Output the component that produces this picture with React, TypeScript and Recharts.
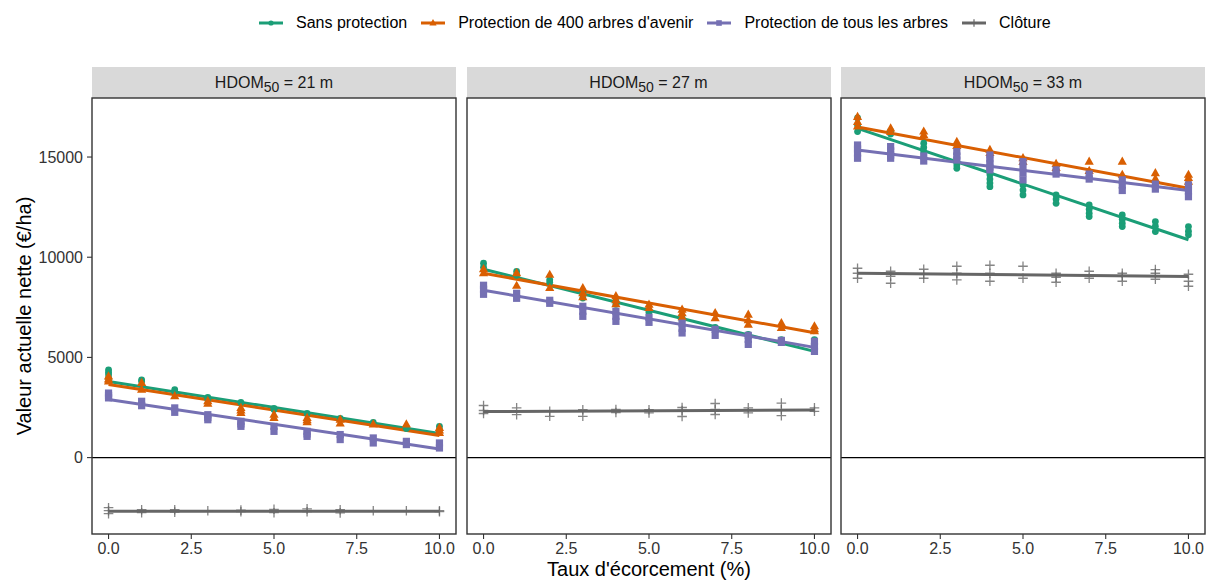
import React from 'react';
import { ComposedChart, Line, Scatter, XAxis, YAxis, ReferenceLine } from 'recharts';

// ---- categories / labels ----
const categories = ['Sans protection', "Protection de 400 arbres d'avenir", 'Protection de tous les arbres', 'Clôture'];
const colors = ['#1b9e77', '#d95f02', '#7570b3', '#666666'];
const hdomValues = ['21', '27', '33'];
const xTicks = [0, 2.5, 5, 7.5, 10];
const yTicks = [0, 5000, 10000, 15000];
const taux = [0, 1, 2, 3, 4, 5, 6, 7, 8, 9, 10];
const fitX = [0, 10];

// ---- Panel HDOM50 = 21 m ----
const p1Sans = [[4380, 4260, 4140, 3950], [3880, 3800], [3390, 3300], [3000, 2900], [2750], [2450, 2400], [2200], [1950, 1900], [1760], [1500, 1450], [1560, 1400]];
const p1P400 = [[4050, 3900, 3800], [3720, 3390], [3060], [2810, 2690], [2480, 2350, 2230], [2140, 1980], [1980, 1860, 1760], [1890, 1700], [1650], [1650], [1480, 1350, 1230]];
const p1Tous = [[3220, 3100, 2980], [2810, 2590], [2480, 2260], [2140, 2000, 1890], [1810, 1680, 1560], [1560, 1310], [1310, 1180, 1060], [1150, 900], [980, 730], [810, 650], [730, 480]];
const p1Cloture = [[-2500, -2650, -2800], [-2600, -2750], [-2600, -2720], [-2650], [-2620, -2700], [-2580, -2750], [-2560, -2700], [-2600, -2760], [-2650], [-2650], [-2650, -2700]];
const p1SansFit = [3800, 1200];
const p1P400Fit = [3650, 1100];
const p1TousFit = [2900, 430];
const p1ClotureFit = [-2680, -2680];

// ---- Panel HDOM50 = 27 m ----
const p2Sans = [[9700, 9500], [9290, 9100], [8870, 8750], [8300, 7960], [7800, 7650], [7350, 7250], [6950, 6850], [6500, 6400], [6150, 6050], [5880, 5750], [5880, 5600]];
const p2P400 = [[9400, 9200], [9200, 8570], [9120, 8460], [8450, 8200, 8000], [8050, 7850, 7650], [7630, 7460], [7380, 7200, 7010], [7210, 6960], [7130, 6850, 6630], [6710, 6470], [6550, 6400, 6300]];
const p2Tous = [[8600, 8400, 8150], [8200, 7950], [7850, 7700], [7550, 7300, 7050], [7300, 7050, 6800], [7000, 6750], [6710, 6450, 6220], [6400, 6100], [6100, 5900, 5650], [5850, 5750], [5800, 5550, 5300]];
const p2Cloture = [[2600, 2350, 2200], [2480, 2140], [2310, 2060], [2390, 2060], [2400, 2250], [2390, 2230], [2500, 2350, 2050], [2700, 2400, 2150], [2480, 2230], [2720, 2390, 2090], [2480, 2310]];
const p2SansFit = [9400, 5300];
const p2P400Fit = [9200, 6230];
const p2TousFit = [8350, 5500];
const p2ClotureFit = [2300, 2380];

// ---- Panel HDOM50 = 33 m ----
const p3Sans = [[16950, 16600, 16270], [16300, 16150], [15690, 15480, 15270], [14770, 14600, 14440], [14110, 13900, 13700, 13520], [13610, 13350, 13110], [13110, 12900, 12690], [12610, 12400, 12200, 12030], [12110, 11900, 11700, 11530], [11780, 11550, 11280], [11530, 11300, 11120]];
const p3P400 = [[17000, 16750, 16520], [16430, 16250], [16270, 16100], [15750, 15550], [15350, 15200], [14940, 14750], [14650, 14450], [14770, 14300], [14770, 14110], [14190, 13900], [14110, 13950, 13770]];
const p3Tous = [[15600, 15400, 15200, 14940], [15520, 15300, 15100, 14940], [15050, 14800], [15270, 15050, 14850], [15100, 14900, 14700, 14500, 14360], [14770, 14500, 14200, 13860], [14360, 14150], [14150, 13900], [13860, 13600, 13330], [13650, 13400], [13610, 13300, 13020]];
const p3Cloture = [[9450, 9200, 8950], [9300, 9050, 8700], [9400, 9150, 8950], [9550, 9200, 8870], [9600, 9200, 8800], [9550, 8950], [9200, 9000, 8750], [9300, 8950], [9200, 9050, 8800], [9380, 9200, 8900], [9150, 8800, 8550]];
const p3SansFit = [16430, 10870];
const p3P400Fit = [16500, 13440];
const p3TousFit = [15350, 13330];
const p3ClotureFit = [9200, 9040];

const panels = [
  { hdom: hdomValues[0], series: [p1Sans, p1P400, p1Tous, p1Cloture], fits: [p1SansFit, p1P400Fit, p1TousFit, p1ClotureFit] },
  { hdom: hdomValues[1], series: [p2Sans, p2P400, p2Tous, p2Cloture], fits: [p2SansFit, p2P400Fit, p2TousFit, p2ClotureFit] },
  { hdom: hdomValues[2], series: [p3Sans, p3P400, p3Tous, p3Cloture], fits: [p3SansFit, p3P400Fit, p3TousFit, p3ClotureFit] },
];

// ---- layout ----
const FONT = '"Liberation Sans", Arial, Helvetica, sans-serif';
const PANEL_LEFTS = [92, 466.5, 841];
const PANEL_W = 364;
const PANEL_TOP = 98;
const PANEL_H = 436;
const STRIP_TOP = 67;
const Y_AXIS_W = 60;
const M_TOP = 10;
const M_RIGHT = 10;
const X_AXIS_H = 40;
const Y_DOMAIN = [-3813, 17946];
const X_DOMAIN = [-0.5, 10.5];

const shapeFor = (k: number) => (props: any) => {
  const { cx, cy } = props;
  if (cx == null || cy == null) return <g />;
  const c = colors[k];
  if (k === 0) return <circle cx={cx} cy={cy} r={3.4} fill={c} />;
  if (k === 1) return <path d={`M${cx},${cy - 5.2}L${cx + 4.6},${cy + 3}L${cx - 4.6},${cy + 3}Z`} fill={c} />;
  if (k === 2) return <rect x={cx - 3.6} y={cy - 3.6} width={7.2} height={7.2} fill={c} />;
  return <path d={`M${cx - 4.8},${cy}H${cx + 4.8}M${cx},${cy - 4.8}V${cy + 4.8}`} stroke={c} strokeWidth={1.3} opacity={0.8} fill="none" />;
};

const LegendKey = ({ k }: { k: number }) => {
  const c = colors[k];
  const cx = 12, cy = 8;
  let mark: any;
  if (k === 0) mark = <circle cx={cx} cy={cy} r={2.6} fill={c} />;
  else if (k === 1) mark = <path d={`M${cx},${cy - 4}L${cx + 3.6},${cy + 2.4}L${cx - 3.6},${cy + 2.4}Z`} fill={c} />;
  else if (k === 2) mark = <rect x={cx - 2.8} y={cy - 2.8} width={5.6} height={5.6} fill={c} />;
  else mark = <path d={`M${cx - 3.8},${cy}H${cx + 3.8}M${cx},${cy - 3.8}V${cy + 3.8}`} stroke={c} strokeWidth={1.2} fill="none" />;
  return (
    <svg width={24} height={16} style={{ display: 'block' }}>
      <line x1={0} y1={cy} x2={24} y2={cy} stroke={c} strokeWidth={3} />
      {mark}
    </svg>
  );
};

const Panel = ({ idx }: { idx: number }) => {
  const p = panels[idx];
  const left = PANEL_LEFTS[idx];
  const width = Y_AXIS_W + PANEL_W + M_RIGHT;
  const height = M_TOP + PANEL_H + X_AXIS_H;
  const showY = idx === 0;
  return (
    <>
      <div style={{ position: 'absolute', left, top: STRIP_TOP, width: PANEL_W, height: PANEL_TOP - STRIP_TOP, background: '#d9d9d9', display: 'flex', alignItems: 'center', justifyContent: 'center', fontSize: 16, color: '#1a1a1a', fontFamily: FONT }}>
        <span>
          HDOM<span style={{ fontSize: 14, position: 'relative', top: 4 }}>50</span> = {p.hdom} m
        </span>
      </div>
      <div style={{ position: 'absolute', left: left - Y_AXIS_W, top: PANEL_TOP - M_TOP }}>
        <ComposedChart width={width} height={height} margin={{ top: M_TOP, right: M_RIGHT, bottom: 0, left: 0 }}>
          <XAxis
            type="number"
            dataKey="x"
            domain={X_DOMAIN}
            allowDataOverflow
            ticks={xTicks}
            tickFormatter={(v: number) => v.toFixed(1)}
            height={X_AXIS_H}
            axisLine={false}
            tickLine={{ stroke: '#333333', strokeWidth: 1.1 }}
            tickSize={5}
            tickMargin={4}
            tick={{ fill: '#333333', fontSize: 16, fontFamily: FONT }}
            interval={0}
          />
          <YAxis
            type="number"
            dataKey="y"
            domain={Y_DOMAIN}
            allowDataOverflow
            ticks={yTicks}
            width={Y_AXIS_W}
            axisLine={false}
            tickLine={showY ? { stroke: '#333333', strokeWidth: 1.1 } : false}
            tickSize={5}
            tickMargin={4}
            tick={showY ? { fill: '#333333', fontSize: 16, fontFamily: FONT } : false}
            interval={0}
          />
          <ReferenceLine y={0} stroke="#000000" strokeWidth={1.3} />
          {p.series.map((s, k) => (
            <Scatter
              key={`s${k}`}
              name={categories[k]}
              data={taux.flatMap((x, i) => s[i].map((y) => ({ x, y })))}
              fill={colors[k]}
              shape={shapeFor(k)}
              isAnimationActive={false}
            />
          ))}
          {p.fits.map((f, k) => (
            <Line
              key={`l${k}`}
              name={categories[k]}
              data={fitX.map((x, i) => ({ x, y: f[i] }))}
              dataKey="y"
              type="linear"
              stroke={colors[k]}
              strokeWidth={3}
              dot={false}
              activeDot={false}
              isAnimationActive={false}
            />
          ))}
        </ComposedChart>
      </div>
      <svg style={{ position: 'absolute', left, top: PANEL_TOP, overflow: 'visible' }} width={PANEL_W} height={PANEL_H}>
        <rect x={0} y={0} width={PANEL_W} height={PANEL_H} fill="none" stroke="#333333" strokeWidth={1.4} />
      </svg>
    </>
  );
};

export default function App() {
  return (
    <div style={{ position: 'absolute', left: 0, top: 0, width: 1206, height: 582, background: '#ffffff', fontFamily: FONT, overflow: 'hidden' }}>
      <div style={{ position: 'absolute', left: 259, top: 13, height: 20, display: 'flex', alignItems: 'center', fontSize: 16, color: '#000', whiteSpace: 'nowrap' }}>
        {categories.map((c, k) => (
          <div key={c} style={{ display: 'flex', alignItems: 'center', marginRight: 14 }}>
            <LegendKey k={k} />
            <span style={{ marginLeft: 13 }}>{c}</span>
          </div>
        ))}
      </div>
      {panels.map((_, i) => (
        <Panel key={i} idx={i} />
      ))}
      <div style={{ position: 'absolute', left: 449, top: 557, width: 400, height: 24, lineHeight: '24px', textAlign: 'center', fontSize: 20, color: '#000' }}>
        Taux d'écorcement (%)
      </div>
      <div style={{ position: 'absolute', left: 24 - 200, top: 316 - 12, width: 400, height: 24, lineHeight: '24px', textAlign: 'center', fontSize: 20, color: '#000', transform: 'rotate(-90deg)' }}>
        Valeur actuelle nette (€/ha)
      </div>
    </div>
  );
}
